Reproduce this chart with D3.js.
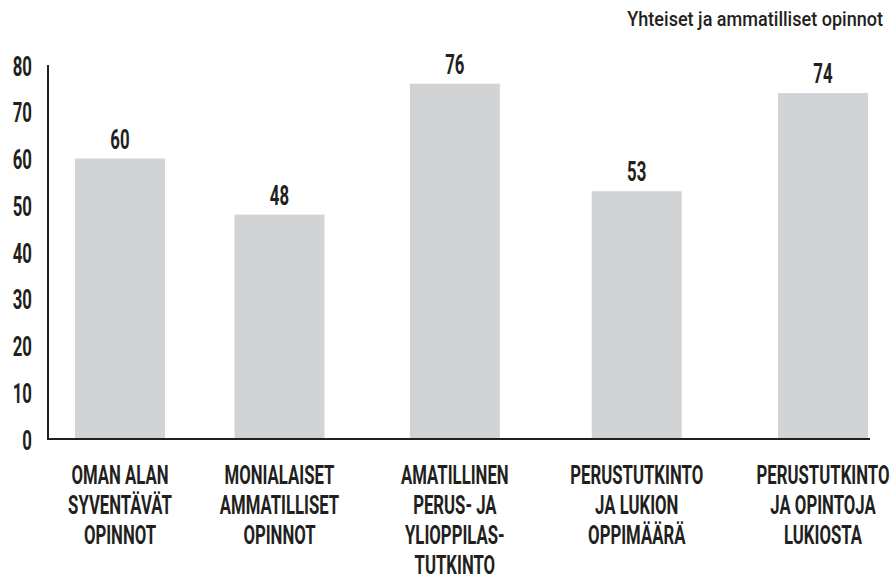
<!DOCTYPE html>
<html>
<head>
<meta charset="utf-8">
<script src="https://cdn.jsdelivr.net/npm/d3@7"></script>
<style>
  html, body { margin: 0; padding: 0; background: #fff; }
  svg text { font-family: Roboto, "Liberation Sans", sans-serif; fill: #231f20; }
</style>
</head>
<body>
<div id="app"></div>
<script>
;(() => {
  // data
  const categories = [
    ['OMAN ALAN', 'SYVENTÄVÄT', 'OPINNOT'],
    ['MONIALAISET', 'AMMATILLISET', 'OPINNOT'],
    ['AMATILLINEN', 'PERUS- JA', 'YLIOPPILAS-', 'TUTKINTO'],
    ['PERUSTUTKINTO', 'JA LUKION', 'OPPIMÄÄRÄ'],
    ['PERUSTUTKINTO', 'JA OPINTOJA', 'LUKIOSTA']
  ]
  const values = [60, 48, 76, 53, 74]
  const yTicks = [0, 10, 20, 30, 40, 50, 60, 70, 80]
  const title = 'Yhteiset ja ammatilliset opinnot'

  const width = 890
  const height = 580
  const axisLeft = 48
  const axisRight = 870
  const barWidth = 90
  const fontSize = 28
  const squeeze = 0.6 // no condensed face installed, so narrow the glyphs
  const labelSize = 25
  const labelSqueeze = 0.67
  const lineStep = 30

  const svg = d3.create('svg')
    .attr('width', width)
    .attr('height', height)
    .attr('viewBox', [0, 0, width, height])

  const y_scale = d3.scaleLinear().domain([0, 80]).range([439, 65])

  // bar slots widen slightly to the right in the original layout
  const x_scale = d3.scalePow()
    .exponent(1.07)
    .domain([0, categories.length - 1])
    .range([120, 823])

  // title
  svg.append('text')
    .attr('transform', `translate(883,26) scale(0.86,1)`)
    .attr('text-anchor', 'end')
    .attr('font-size', 21)
    .attr('font-weight', 500)
    .text(title)

  // y axis
  const yAxis = d3.axisLeft(y_scale)
    .tickValues(yTicks)
    .tickSize(0)
    .tickPadding(16)

  const gy = svg.append('g')
    .attr('transform', `translate(${axisLeft},0)`)
    .call(yAxis)
  gy.select('.domain').remove()
  gy.selectAll('text')
    .attr('x', -16 / squeeze)
    .attr('dy', '0.36em')
    .attr('transform', `scale(${squeeze},1)`)
    .attr('font-size', fontSize)
    .attr('font-weight', 'bold')
    .attr('font-family', null)
    .attr('fill', '#231f20')

  // bars
  const g = svg.append('g').selectAll('g').data(values).join('g')

  g.append('rect')
    .attr('x', (d, i) => x_scale(i) - barWidth / 2)
    .attr('y', (d) => y_scale(d))
    .attr('width', barWidth)
    .attr('height', (d) => y_scale(0) - y_scale(d))
    .attr('fill', '#d1d3d4')

  g.append('text')
    .attr('transform', (d, i) => `translate(${x_scale(i)},${y_scale(d) - 10}) scale(${squeeze},1)`)
    .attr('text-anchor', 'middle')
    .attr('font-size', fontSize)
    .attr('font-weight', 'bold')
    .text((d) => d)

  // axis lines
  svg.append('path')
    .attr('d', `M${axisLeft},${y_scale(80)}V${y_scale(0)}H${axisRight}`)
    .attr('fill', 'none')
    .attr('stroke', '#231f20')
    .attr('stroke-width', 2)

  // category labels, one text per line
  const labelLines = categories.flatMap((lines, i) => lines.map((line, j) => ({ line, i, j })))

  svg.append('g').selectAll('text').data(labelLines).join('text')
    .attr('transform', (d) => `translate(${x_scale(d.i)},${484 + d.j * lineStep}) scale(${labelSqueeze},1)`)
    .attr('text-anchor', 'middle')
    .attr('font-size', labelSize)
    .attr('font-weight', 'bold')
    .text((d) => d.line)

  d3.select('#app').append(() => svg.node())
})()
</script>
</body>
</html>
